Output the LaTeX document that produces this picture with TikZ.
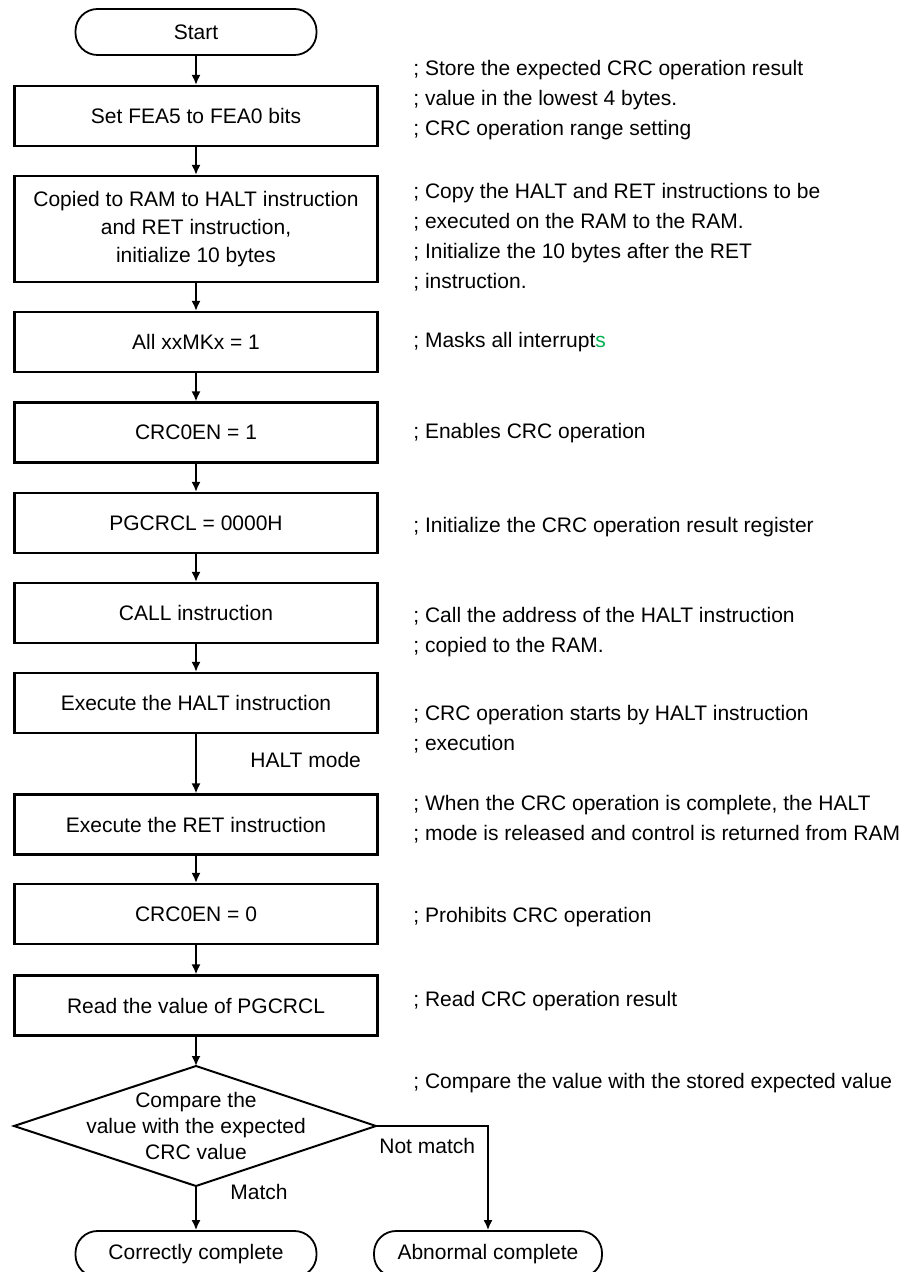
\documentclass[tikz,border=0pt]{standalone}
\usepackage{fontspec}
\setmainfont{Liberation Sans}
\usetikzlibrary{arrows.meta}
\definecolor{mygreen}{RGB}{0,176,80}
\begin{document}
\begin{tikzpicture}[x=0.5pt,y=-0.5pt,
 every node/.style={font=\fontsize{10.5pt}{14pt}\selectfont, inner sep=0pt},
 proc/.style={draw, line width=1.1pt, minimum width=181.5pt, minimum height=30pt, align=center},
 term/.style={draw, line width=0.9pt, rounded corners=11pt, minimum height=23pt},
 note/.style={anchor=west, align=left, font=\fontsize{10.5pt}{15pt}\selectfont},
 arr/.style={line width=0.9pt, -{Latex[length=5pt,width=4.5pt]}},
 lbl/.style={anchor=west}]
\clip (0,0) rectangle (907,1272);
\fill[white] (0,0) rectangle (907,1272);

% flow nodes
\node[term, minimum width=120.5pt] (start) at (196,32) {Start};
\node[proc] (b1) at (196,116) {Set FEA5 to FEA0 bits};
\node[proc, minimum height=53pt] (b2) at (196,229) {Copied to RAM to HALT instruction\\and RET instruction,\\initialize 10 bytes};
\node[proc] (b3) at (196,342) {All xxMKx = 1};
\node[proc] (b4) at (196,432.5) {CRC0EN = 1};
\node[proc] (b5) at (196,523) {PGCRCL = 0000H};
\node[proc] (b6) at (196,613) {CALL instruction};
\node[proc] (b7) at (196,703) {Execute the HALT instruction};
\node[proc] (b8) at (196,824.5) {Execute the RET instruction};
\node[proc] (b9) at (196,914) {CRC0EN = 0};
\node[proc] (b10) at (196,1005.5) {Read the value of PGCRCL};

% decision
\coordinate (dtop) at (196,1066);
\coordinate (dbot) at (196,1186);
\coordinate (dleft) at (14,1126);
\coordinate (dright) at (376,1126);
\draw[line width=1pt] (dtop) -- (dright) -- (dbot) -- (dleft) -- cycle;
\node[align=center, font=\fontsize{10.5pt}{13pt}\selectfont] (dtext) at (196,1126) {Compare the\\value with the expected\\CRC value};

\node[term, minimum width=120.5pt] (end1) at (196,1254) {Correctly complete};
\node[term, minimum width=114pt] (end2) at (488,1254) {Abnormal complete};

% connectors
\draw[arr] (start) -- (b1);
\draw[arr] (b1) -- (b2);
\draw[arr] (b2) -- (b3);
\draw[arr] (b3) -- (b4);
\draw[arr] (b4) -- (b5);
\draw[arr] (b5) -- (b6);
\draw[arr] (b6) -- (b7);
\draw[arr] (b7) -- (b8);
\draw[arr] (b8) -- (b9);
\draw[arr] (b9) -- (b10);
\draw[arr] (b10) -- (dtop);
\draw[arr] (dbot) -- (end1);
\draw[arr] (dright) -- (end2.north |- dright) -- (end2.north);

% connector labels
\node[lbl] (halt) at (250,760) {HALT mode};
\node[lbl] (match) at (230,1192) {Match};
\node[lbl] (nomatch) at (379,1146) {Not match};

% annotations
\node[note] (n1) at (413,100.5) {; Store the expected CRC operation result\\; value in the lowest 4 bytes.\\; CRC operation range setting};
\node[note] (n2) at (413,237.5) {; Copy the HALT and RET instructions to be\\; executed on the RAM to the RAM.\\; Initialize the 10 bytes after the RET\\; instruction.};
\node[note] (n3) at (413,342) {; Masks all interrupt{\color{mygreen}s}};
\node[note] (n4) at (413,433) {; Enables CRC operation};
\node[note] (n5) at (413,527) {; Initialize the CRC operation result register};
\node[note] (n6) at (413,632.5) {; Call the address of the HALT instruction\\; copied to the RAM.};
\node[note] (n7) at (413,729.5) {; CRC operation starts by HALT instruction\\; execution};
\node[note] (n8) at (413,819) {; When the CRC operation is complete, the HALT\\; mode is released and control is returned from RAM};
\node[note] (n9) at (413,917) {; Prohibits CRC operation};
\node[note] (n10) at (413,1001) {; Read CRC operation result};
\node[note] (n11) at (413,1083) {; Compare the value with the stored expected value};
\end{tikzpicture}
\end{document}
